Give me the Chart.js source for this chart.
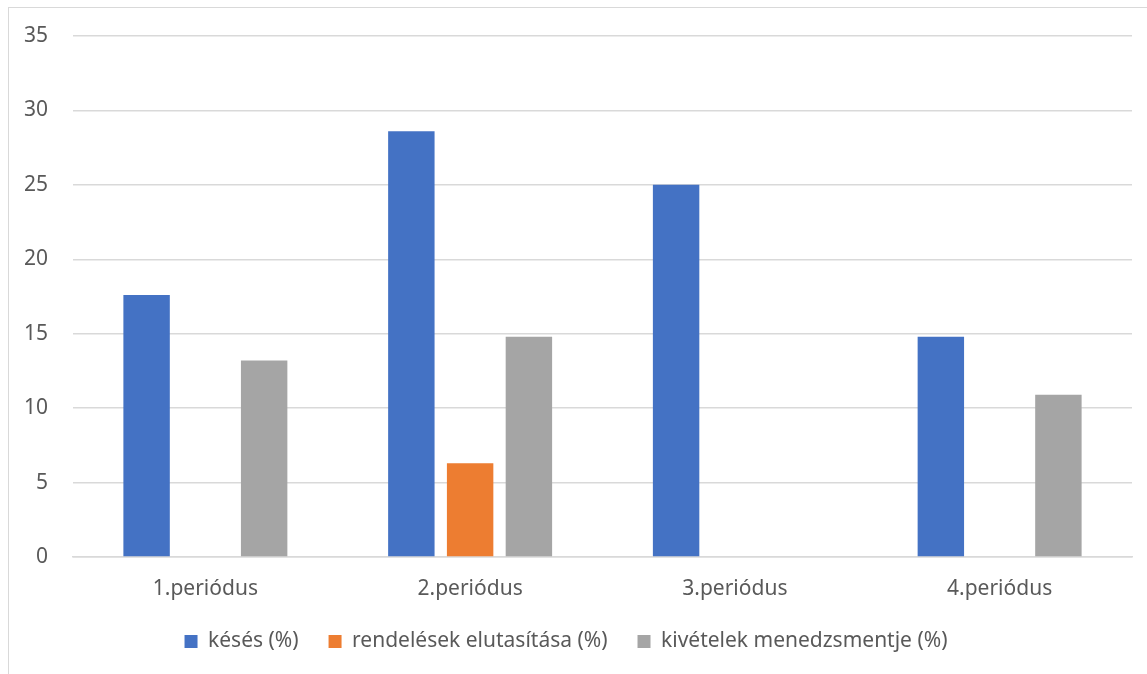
<!DOCTYPE html>
<html>
<head>
<meta charset="utf-8">
<script src="https://cdn.jsdelivr.net/npm/chart.js@4"></script>
<style>
  html, body { margin: 0; padding: 0; background: #fff; }
  #wrap { position: relative; width: 1147px; height: 674px; }
  #frame {
    position: absolute; left: 8px; top: 7px; right: 0; bottom: 0;
    border-left: 1px solid #d9d9d9; border-top: 1px solid #d9d9d9;
    pointer-events: none;
  }
</style>
</head>
<body>
<div id="wrap">
  <canvas id="chart"></canvas>
  <div id="frame"></div>
</div>
<script>
// chart data
const periods = ["1.periódus", "2.periódus", "3.periódus", "4.periódus"];
const seriesNames = ["késés (%)", "rendelések elutasítása (%)", "kivételek menedzsmentje (%)"];
const kesesValues = [17.6, 28.6, 25, 14.8];
const elutasitasValues = [0, 6.3, 0, 0];
const kivetelekValues = [13.2, 14.8, 0, 10.9];
const yTicks = [0, 5, 10, 15, 20, 25, 30, 35];

const colors = ["#4472C4", "#ED7D31", "#A5A5A5"];
const textColor = "#595959";
const font = { family: "'Noto Sans', sans-serif", size: 21, lineHeight: 1 };

const ctx = document.getElementById("chart");
new Chart(ctx, {
  type: "bar",
  data: {
    labels: periods,
    datasets: [kesesValues, elutasitasValues, kivetelekValues].map((vals, i) => ({
      label: seriesNames[i],
      data: vals,
      backgroundColor: colors[i],
      borderWidth: 0,
      categoryPercentage: 0.666,
      barPercentage: 0.79,
    })),
  },
  options: {
    responsive: true,
    maintainAspectRatio: false,
    animation: false,
    layout: { padding: { left: 0, right: 15, top: 36, bottom: 12 } },
    scales: {
      x: {
        grid: { display: false, drawTicks: false },
        border: { display: true, color: "#d9d9d9", width: 1.5 },
        ticks: { color: textColor, font: font, padding: 22 },
        afterFit: (scale) => { scale.height = 44; },
      },
      y: {
        min: 0,
        max: 35,
        afterBuildTicks: (scale) => { scale.ticks = yTicks.map((v) => ({ value: v })); },
        grid: { color: "#d9d9d9", lineWidth: 1.5, drawTicks: false },
        border: { display: false },
        ticks: { color: textColor, font: font, padding: 25 },
        afterFit: (scale) => { scale.width = 73; },
      },
    },
    plugins: {
      legend: {
        position: "bottom",
        labels: {
          color: textColor,
          font: font,
          boxWidth: 13,
          boxHeight: 13,
          padding: 30,
        },
      },
      tooltip: { enabled: false },
    },
  },
});
</script>
</body>
</html>
